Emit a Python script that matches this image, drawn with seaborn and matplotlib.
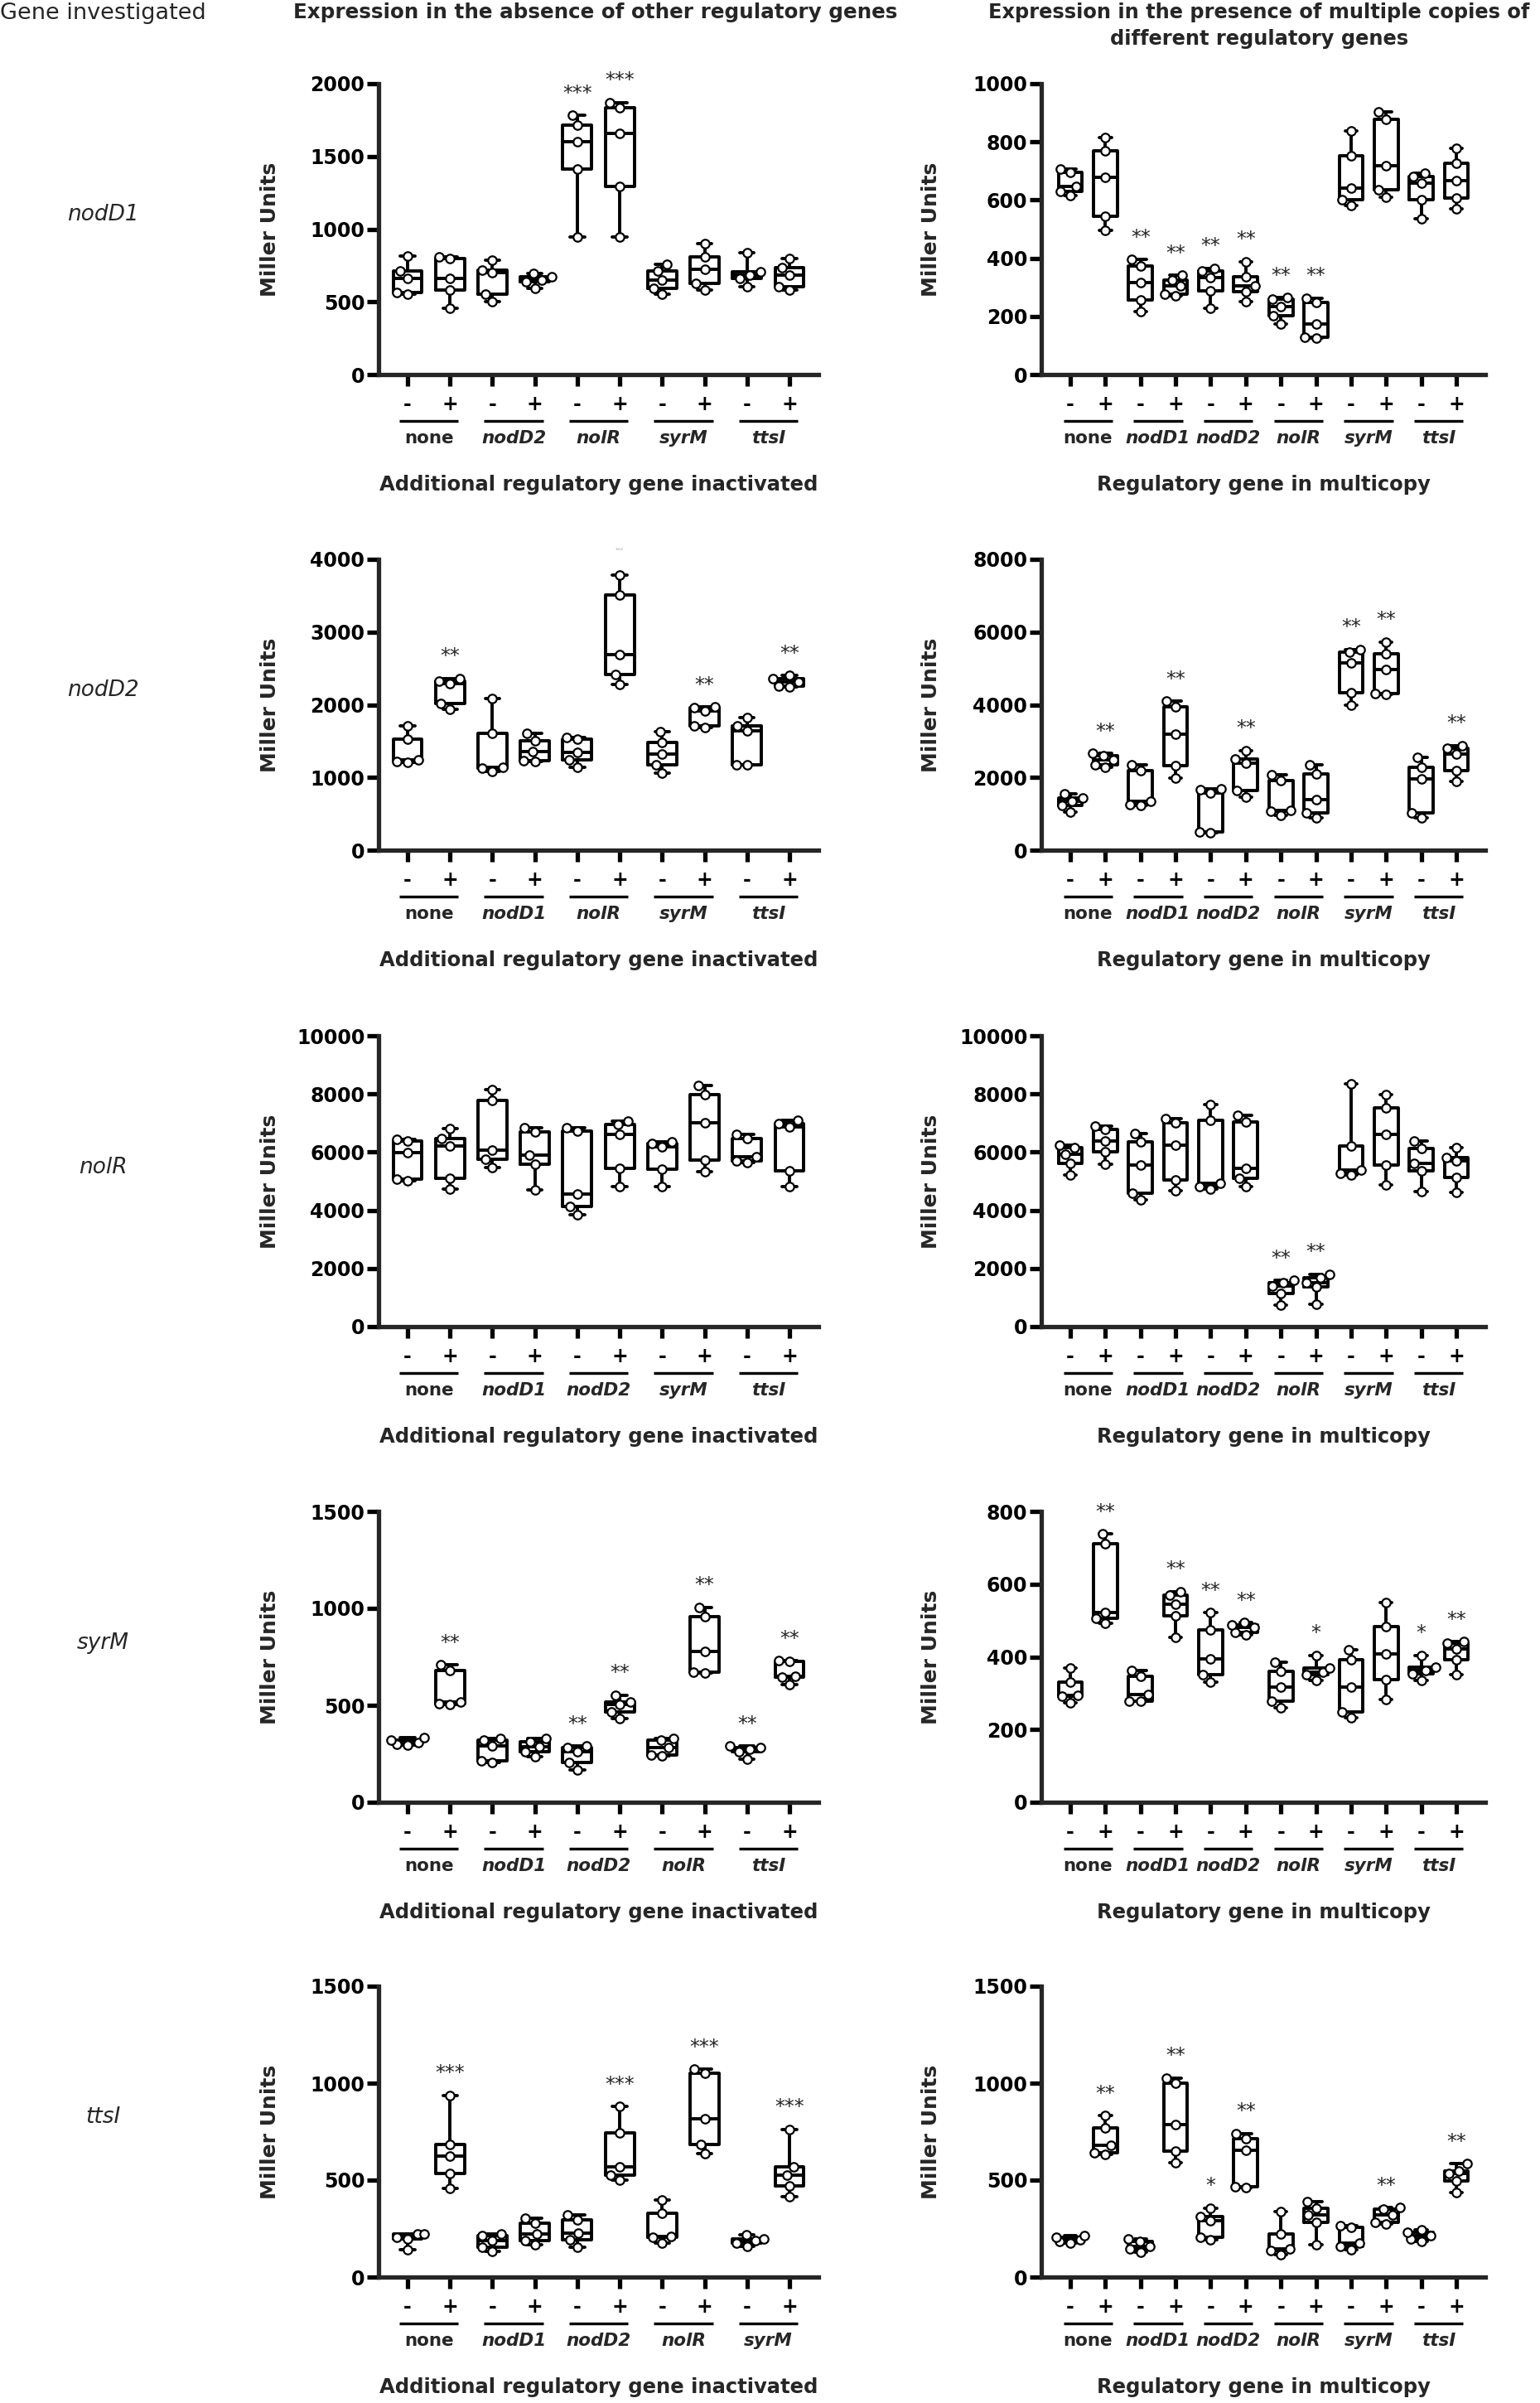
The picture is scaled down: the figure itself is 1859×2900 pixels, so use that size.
"""
Box plots of Miller units for five regulatory genes, in two conditions.
Run: python plot.py
"""

import numpy as np
import pandas as pd
import matplotlib
matplotlib.use('Agg')
import matplotlib.pyplot as plt
import matplotlib.transforms as mtransforms
import seaborn as sns

sns.set_theme(style='ticks')
plt.rcParams['font.family'] = ['DejaVu Sans']

FIG_W, FIG_H = 1859, 2900

ROW_GENES = ['nodD1', 'nodD2', 'nolR', 'syrM', 'ttsI']
ALL_GROUPS = ['none', 'nodD1', 'nodD2', 'nolR', 'syrM', 'ttsI']

# ---- nodD1 ----
nodD1_absent_groups = ['none', 'nodD2', 'nolR', 'syrM', 'ttsI']
nodD1_absent_values = [
    [551, 562, 660, 715, 813], [455, 584, 660, 798, 810],
    [500, 555, 700, 720, 787], [595, 638, 650, 671, 693],
    [944, 1412, 1602, 1717, 1782], [944, 1292, 1658, 1837, 1870],
    [551, 595, 649, 715, 758], [584, 628, 726, 808, 900],
    [606, 660, 686, 708, 835], [584, 606, 682, 737, 795],
]
nodD1_absent_stars = ['', '', '', '', '***', '***', '', '', '', '']
nodD1_multi_values = [
    [616, 630, 647, 694, 707], [497, 544, 677, 769, 815],
    [217, 255, 315, 373, 395], [272, 277, 304, 326, 342],
    [228, 288, 332, 355, 366], [250, 286, 304, 337, 388],
    [174, 201, 234, 258, 264], [125, 128, 174, 247, 263],
    [582, 601, 641, 753, 837], [609, 636, 717, 877, 902],
    [536, 601, 658, 682, 692], [569, 607, 666, 726, 779],
]
nodD1_multi_stars = ['', '', '**', '**', '**', '**', '**', '**', '', '', '', '']

# ---- nodD2 ----
nodD2_absent_groups = ['none', 'nodD1', 'nolR', 'syrM', 'ttsI']
nodD2_absent_values = [
    [1210, 1218, 1240, 1523, 1714], [1941, 2022, 2294, 2323, 2364],
    [1088, 1129, 1137, 1604, 2091], [1218, 1226, 1360, 1503, 1604],
    [1145, 1239, 1340, 1523, 1555], [2282, 2416, 2688, 3505, 3789],
    [1056, 1178, 1320, 1482, 1624], [1685, 1714, 1917, 1957, 1970],
    [1170, 1178, 1645, 1714, 1827], [2242, 2254, 2315, 2355, 2404],
]
nodD2_absent_stars = ['', '**', '', '', '', '', '', '**', '', '**']
nodD2_absent_faint = ['', '', '', '', '', '***', '', '', '', '']
nodD2_multi_values = [
    [1056, 1235, 1340, 1446, 1543], [2274, 2355, 2477, 2599, 2664],
    [1235, 1259, 1340, 2177, 2355], [1990, 2315, 3184, 3939, 4102],
    [471, 504, 1584, 1665, 1690], [1462, 1641, 2396, 2502, 2745],
    [958, 1072, 1096, 1909, 2071], [893, 1015, 1381, 2095, 2339],
    [3996, 4321, 5157, 5442, 5523], [4288, 4305, 4971, 5401, 5726],
    [893, 1015, 1949, 2290, 2558], [1884, 2193, 2640, 2802, 2883],
]
nodD2_multi_stars = ['', '**', '', '**', '', '**', '', '', '**', '**', '', '**']

# ---- nolR ----
nolR_absent_groups = ['none', 'nodD1', 'nodD2', 'syrM', 'ttsI']
nolR_absent_values = [
    [5025, 5076, 5990, 6396, 6447], [4721, 5106, 6223, 6467, 6802],
    [5482, 5756, 6061, 7766, 8152], [4700, 5584, 5888, 6700, 6832],
    [3858, 4132, 4568, 6731, 6832], [4822, 5452, 6599, 6954, 7076],
    [4822, 5411, 6193, 6294, 6365], [5330, 5736, 7005, 7990, 8294],
    [5655, 5685, 5837, 6467, 6599], [4822, 5350, 6873, 6975, 7106],
]
nolR_absent_stars = [''] * 10
nolR_multi_values = [
    [5208, 5614, 5939, 6142, 6243], [5584, 6020, 6396, 6771, 6903],
    [4365, 4599, 5553, 6345, 6650], [4670, 5045, 6243, 7005, 7137],
    [4741, 4802, 4924, 7106, 7644], [4822, 5106, 5431, 7035, 7279],
    [741, 1147, 1391, 1523, 1594], [782, 1371, 1523, 1695, 1797],
    [5208, 5279, 5381, 6223, 8355], [4873, 5553, 6599, 7512, 7969],
    [4640, 5350, 5614, 6122, 6396], [4619, 5127, 5685, 5817, 6162],
]
nolR_multi_stars = ['', '', '', '', '', '', '**', '**', '', '', '', '']

# ---- syrM ----
syrM_absent_groups = ['none', 'nodD1', 'nodD2', 'nolR', 'ttsI']
syrM_absent_values = [
    [297, 300, 309, 320, 335], [503, 510, 518, 681, 708],
    [203, 213, 289, 320, 327], [236, 259, 285, 312, 330],
    [168, 206, 259, 282, 289], [431, 467, 503, 518, 553],
    [239, 244, 282, 320, 330], [665, 670, 777, 959, 1005],
    [221, 259, 274, 282, 289], [605, 644, 650, 726, 731],
]
syrM_absent_stars = ['', '**', '', '', '**', '**', '', '**', '**', '**']
syrM_multi_values = [
    [273, 291, 295, 331, 370], [492, 505, 521, 710, 738],
    [277, 279, 297, 346, 362], [453, 513, 545, 570, 580],
    [330, 350, 395, 474, 521], [461, 468, 480, 488, 494],
    [260, 277, 317, 361, 385], [336, 350, 358, 369, 404],
    [232, 248, 317, 391, 419], [282, 338, 409, 483, 549],
    [336, 354, 362, 372, 404], [350, 391, 421, 437, 442],
]
syrM_multi_stars = ['', '**', '', '**', '**', '**', '', '*', '', '', '*', '**']

# ---- ttsI ----
ttsI_absent_groups = ['none', 'nodD1', 'nodD2', 'nolR', 'syrM']
ttsI_absent_values = [
    [142, 198, 206, 221, 224], [457, 533, 624, 685, 937],
    [132, 152, 190, 213, 224], [168, 190, 221, 279, 305],
    [152, 193, 228, 294, 320], [498, 525, 568, 742, 879],
    [175, 206, 209, 327, 396], [635, 685, 818, 1051, 1071],
    [157, 175, 190, 198, 218], [416, 472, 525, 568, 761],
]
ttsI_absent_stars = ['', '***', '', '', '', '***', '', '***', '', '***']
ttsI_multi_values = [
    [175, 183, 194, 203, 214], [633, 641, 679, 771, 832],
    [127, 145, 157, 183, 198], [588, 649, 786, 1000, 1027],
    [194, 206, 290, 313, 356], [462, 465, 652, 713, 740],
    [114, 137, 145, 224, 336], [168, 282, 320, 356, 389],
    [142, 160, 175, 255, 267], [275, 282, 320, 351, 359],
    [183, 198, 214, 229, 244], [438, 496, 534, 549, 584],
]
ttsI_multi_stars = ['', '**', '', '**', '*', '**', '', '', '', '**', '', '**']

# y axis limits / steps per row: (absent, multicopy)
y_max = [(2000, 1000), (4000, 8000), (10000, 10000), (1500, 800), (1500, 1500)]
y_step = [(500, 200), (1000, 2000), (2000, 2000), (500, 200), (500, 500)]

# layout in pixels
ROW_TOPS = [101, 675, 1250, 1824, 2397]
AX_H = 351
COL_X = [(457, 531), (1257, 536)]


def add_axes(fig, left, top, width, height):
    return fig.add_axes([left / FIG_W, (FIG_H - top - height) / FIG_H,
                         width / FIG_W, height / FIG_H])


def draw_panel(ax, groups, values, stars, ymax, ystep, width_px, xlabel, faint=None):
    """One box plot panel with min/max whiskers and all points."""
    labels = []
    rows = []
    for gi, g in enumerate(groups):
        for si, sign in enumerate(['-', '+']):
            key = f'{g} {sign}'
            labels.append(key)
            for v in values[2 * gi + si]:
                rows.append((key, v))
    df = pd.DataFrame(rows, columns=['cond', 'value'])

    sns.boxplot(data=df, x='cond', y='value', order=labels, whis=(0, 100),
                width=0.68, fill=False, color='black', linewidth=2.8,
                showfliers=False, ax=ax)
    sns.swarmplot(data=df, x='cond', y='value', order=labels, color='white',
                  edgecolor='black', linewidth=1.6, size=7.5, ax=ax)

    n = len(labels)
    spacing = (width_px - 70) / (n - 1)
    pad = 35 / spacing
    ax.set_xlim(-pad, n - 1 + pad)
    ax.set_ylim(0, ymax)
    ax.set_yticks(np.arange(0, ymax + 1, ystep))
    ax.set_xticks(range(n))
    ax.set_xticklabels(['-', '+'] * len(groups))

    sns.despine(ax=ax)
    for side in ['left', 'bottom']:
        ax.spines[side].set_linewidth(3.8)
    ax.tick_params(axis='both', direction='out', length=10, width=3.8,
                   labelsize=17, colors='black')
    ax.tick_params(axis='x', pad=7)
    ax.tick_params(axis='y', pad=2)
    for lab in ax.get_xticklabels() + ax.get_yticklabels():
        lab.set_fontweight('bold')

    ax.set_ylabel('Miller Units', fontsize=18, fontweight='bold')
    ax.yaxis.set_label_coords(-0.225, 0.5)
    ax.set_xlabel(xlabel, fontsize=17.5, fontweight='bold')
    ax.xaxis.set_label_coords(0.5, -121 / AX_H)

    # group underlines and names
    trans = mtransforms.blended_transform_factory(ax.transData, ax.transAxes)
    for gi, g in enumerate(groups):
        ax.plot([2 * gi - 0.2, 2 * gi + 1.2], [-56 / AX_H] * 2, transform=trans,
                color='black', lw=2.4, clip_on=False, solid_capstyle='butt')
        ax.text(2 * gi + 0.5, -77 / AX_H, g, transform=trans, ha='center',
                va='center', fontsize=15.5, fontweight='bold',
                fontstyle='normal' if g == 'none' else 'italic')

    # significance marks
    for i, s in enumerate(stars):
        if s:
            ax.annotate(s, xy=(i, max(values[i])), xytext=(0, 14),
                        textcoords='offset points', ha='center', va='baseline',
                        fontsize=17, annotation_clip=False)
    if faint:
        for i, s in enumerate(faint):
            if s:
                ax.annotate(s, xy=(i, max(values[i])), xytext=(0, 20),
                            textcoords='offset points', ha='center', va='baseline',
                            fontsize=5, color='#b0b0b0', annotation_clip=False)


def main():
    fig = plt.figure(figsize=(FIG_W / 100, FIG_H / 100), dpi=100)

    fig.text(0, 1 - 3 / FIG_H, 'Gene investigated', ha='left', va='top', fontsize=19.5)
    fig.text(719 / FIG_W, 1 - 3 / FIG_H, 'Expression in the absence of other regulatory genes',
             ha='center', va='top', fontsize=17.7, fontweight='bold')
    fig.text(1520 / FIG_W, 1 - 3 / FIG_H,
             'Expression in the presence of multiple copies of\ndifferent regulatory genes',
             ha='center', va='top', fontsize=17.4, fontweight='bold', linespacing=1.4)

    absent = [
        (nodD1_absent_groups, nodD1_absent_values, nodD1_absent_stars, None),
        (nodD2_absent_groups, nodD2_absent_values, nodD2_absent_stars, nodD2_absent_faint),
        (nolR_absent_groups, nolR_absent_values, nolR_absent_stars, None),
        (syrM_absent_groups, syrM_absent_values, syrM_absent_stars, None),
        (ttsI_absent_groups, ttsI_absent_values, ttsI_absent_stars, None),
    ]
    multi = [
        (nodD1_multi_values, nodD1_multi_stars),
        (nodD2_multi_values, nodD2_multi_stars),
        (nolR_multi_values, nolR_multi_stars),
        (syrM_multi_values, syrM_multi_stars),
        (ttsI_multi_values, ttsI_multi_stars),
    ]

    for r, gene in enumerate(ROW_GENES):
        top = ROW_TOPS[r]
        fig.text(124 / FIG_W, 1 - (top + AX_H / 2 - 17) / FIG_H, gene, ha='center',
                 va='center', fontsize=19, fontstyle='italic')

        groups, values, stars, faint = absent[r]
        ax = add_axes(fig, COL_X[0][0], top, COL_X[0][1], AX_H)
        draw_panel(ax, groups, values, stars, y_max[r][0], y_step[r][0], COL_X[0][1],
                   'Additional regulatory gene inactivated', faint)

        values, stars = multi[r]
        ax = add_axes(fig, COL_X[1][0], top, COL_X[1][1], AX_H)
        draw_panel(ax, ALL_GROUPS, values, stars, y_max[r][1], y_step[r][1], COL_X[1][1],
                   'Regulatory gene in multicopy')

    fig.savefig('out.png', dpi=100, facecolor='white')
    plt.close(fig)


if __name__ == '__main__':
    main()
